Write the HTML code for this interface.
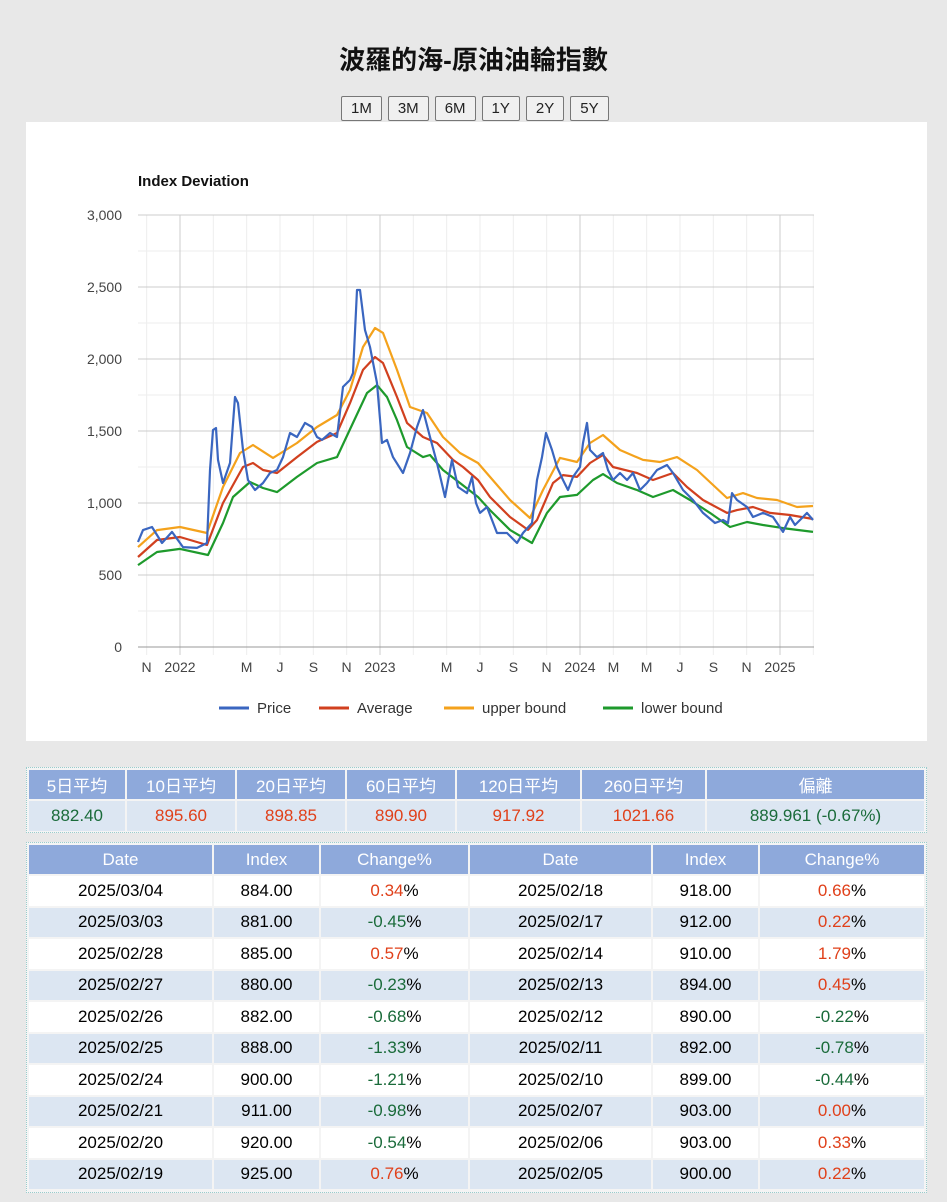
<!DOCTYPE html>
<html><head><meta charset="utf-8"><style>
body{margin:0;background:#e8e8e8;font-family:"Liberation Sans","Noto Sans CJK TC",sans-serif;width:947px;height:1202px;position:relative;overflow:hidden}
.title{position:absolute;top:40px;left:0;width:947px;text-align:center;font-size:26px;font-weight:bold;color:#111}
.btns{position:absolute;top:96px;left:341px;display:flex;gap:6px}
.btns div{height:23px;border:1px solid #777;border-radius:2px;background:#f0f0f0;font-size:15px;line-height:23px;padding:0 9px;color:#222}
.panel{position:absolute;left:26px;top:122px;width:901px;height:619px;background:#fff}
table{border-collapse:separate;border-spacing:2px;font-size:17px;text-align:center}
.box{position:absolute;border:1px dotted #9cc;background:#f4f4f4}
th{background:#8ea9db;color:#fff;font-weight:normal;height:29px;padding:0}
td{height:29.5px;padding:0}
.g{color:#1a6b3a}.r{color:#e0401a}
.alt td{background:#dce6f2}
.wh td{background:#fff}
</style></head><body>
<div class="title">波羅的海-原油油輪指數</div>
<div class="btns">
<div>1M</div><div>3M</div><div>6M</div><div>1Y</div><div>2Y</div><div>5Y</div>
</div>
<div class="panel">
<svg id="chart" width="901" height="619" style="font-family:'Liberation Sans',sans-serif"></svg>
</div>

<div class="box" style="left:26px;top:767px;width:899px;height:64px">
<table style="width:899px">
<tr><th style="width:96px">5日平均</th><th style="width:108px">10日平均</th><th style="width:108px">20日平均</th><th style="width:108px">60日平均</th><th style="width:123px">120日平均</th><th style="width:123px">260日平均</th><th>偏離</th></tr>
<tr class="alt"><td class="g">882.40</td><td class="r">895.60</td><td class="r">898.85</td><td class="r">890.90</td><td class="r">917.92</td><td class="r">1021.66</td><td class="g">889.961 (-0.67%)</td></tr>
</table></div>

<div class="box" style="left:26px;top:842px;width:899px;height:349px">
<table id="hist" style="width:899px">
<tr><th style="width:183px">Date</th><th style="width:105px">Index</th><th style="width:147px">Change%</th><th style="width:181px">Date</th><th style="width:105px">Index</th><th>Change%</th></tr>
</table></div>

<script>
const rowsL=[["2025/03/04","884.00","0.34"],["2025/03/03","881.00","-0.45"],["2025/02/28","885.00","0.57"],["2025/02/27","880.00","-0.23"],["2025/02/26","882.00","-0.68"],["2025/02/25","888.00","-1.33"],["2025/02/24","900.00","-1.21"],["2025/02/21","911.00","-0.98"],["2025/02/20","920.00","-0.54"],["2025/02/19","925.00","0.76"]];
const rowsR=[["2025/02/18","918.00","0.66"],["2025/02/17","912.00","0.22"],["2025/02/14","910.00","1.79"],["2025/02/13","894.00","0.45"],["2025/02/12","890.00","-0.22"],["2025/02/11","892.00","-0.78"],["2025/02/10","899.00","-0.44"],["2025/02/07","903.00","0.00"],["2025/02/06","903.00","0.33"],["2025/02/05","900.00","0.22"]];
const ht=document.getElementById('hist');
function cell(r){const c=parseFloat(r[2]);const cls=c<0?'g':'r';return `<td>${r[0]}</td><td>${r[1]}</td><td><span class="${cls}">${r[2]}</span>%</td>`;}
rowsL.forEach((r,i)=>{const tr=document.createElement('tr');tr.className=i%2?'alt':'wh';


tr.innerHTML=cell(r)+cell(rowsR[i]);ht.appendChild(tr);});

// chart data
const priceDates=[2021.79,2021.815,2021.86,2021.91,2021.96,2022.015,2022.085,2022.135,2022.15,2022.165,2022.18,2022.19,2022.215,2022.25,2022.275,2022.29,2022.315,2022.34,2022.375,2022.415,2022.45,2022.485,2022.515,2022.55,2022.585,2022.625,2022.66,2022.685,2022.71,2022.75,2022.785,2022.815,2022.85,2022.865,2022.885,2022.9,2022.925,2022.95,2022.985,2023.01,2023.035,2023.065,2023.115,2023.15,2023.185,2023.215,2023.25,2023.285,2023.325,2023.36,2023.39,2023.435,2023.46,2023.48,2023.5,2023.535,2023.585,2023.635,2023.685,2023.715,2023.76,2023.785,2023.81,2023.83,2023.86,2023.885,2023.915,2023.94,2023.965,2024.0,2024.015,2024.035,2024.05,2024.085,2024.115,2024.14,2024.165,2024.2,2024.235,2024.265,2024.3,2024.335,2024.385,2024.435,2024.465,2024.515,2024.565,2024.615,2024.675,2024.715,2024.74,2024.76,2024.785,2024.835,2024.865,2024.915,2024.965,2025.015,2025.05,2025.075,2025.115,2025.135,2025.165];
const priceVals=[729,812,833,722,799,694,688,722,1229,1507,1521,1299,1139,1278,1736,1694,1368,1160,1090,1139,1208,1229,1319,1486,1458,1556,1528,1458,1438,1486,1458,1806,1854,1903,2479,2479,2201,2083,1833,1417,1438,1319,1208,1347,1528,1646,1458,1278,1042,1299,1111,1069,1181,1000,931,972,792,792,722,792,861,1160,1319,1486,1368,1250,1160,1090,1181,1250,1417,1556,1368,1319,1347,1229,1160,1208,1160,1208,1090,1139,1229,1264,1208,1090,1021,931,861,882,861,1069,1021,972,903,931,903,799,903,847,903,931,882];
const avgDates=[2021.79,2021.885,2022.0,2022.135,2022.215,2022.315,2022.365,2022.415,2022.485,2022.585,2022.685,2022.785,2022.85,2022.915,2022.975,2023.015,2023.085,2023.135,2023.215,2023.285,2023.365,2023.415,2023.49,2023.55,2023.65,2023.74,2023.785,2023.865,2023.915,2023.985,2024.05,2024.115,2024.165,2024.285,2024.365,2024.465,2024.535,2024.615,2024.735,2024.785,2024.865,2024.95,2025.05,2025.165];
const avgVals=[625,743,764,708,1000,1250,1278,1229,1208,1319,1424,1486,1694,1924,2014,1972,1736,1556,1458,1417,1299,1250,1160,1042,903,813,882,1139,1194,1181,1278,1333,1250,1208,1160,1208,1111,1021,931,951,972,931,917,889];
const upDates=[2021.79,2021.885,2022.0,2022.135,2022.215,2022.3,2022.365,2022.465,2022.585,2022.685,2022.785,2022.85,2022.915,2022.975,2023.015,2023.085,2023.15,2023.235,2023.315,2023.4,2023.49,2023.55,2023.65,2023.75,2023.815,2023.9,2023.985,2024.05,2024.115,2024.2,2024.315,2024.4,2024.485,2024.585,2024.735,2024.815,2024.885,2024.985,2025.085,2025.165];
const upVals=[694,812,833,792,1111,1347,1403,1313,1417,1528,1611,1785,2083,2215,2181,1924,1667,1625,1458,1347,1278,1181,1021,896,1090,1313,1285,1417,1472,1368,1299,1285,1319,1229,1035,1069,1035,1021,972,979];
const loDates=[2021.79,2021.885,2022.0,2022.14,2022.215,2022.265,2022.35,2022.415,2022.485,2022.585,2022.685,2022.785,2022.865,2022.935,2022.985,2023.035,2023.085,2023.135,2023.215,2023.25,2023.315,2023.4,2023.49,2023.55,2023.65,2023.76,2023.835,2023.9,2023.985,2024.065,2024.115,2024.185,2024.285,2024.365,2024.465,2024.55,2024.65,2024.75,2024.835,2024.915,2025.015,2025.165];
const loVals=[569,660,681,639,861,1042,1146,1104,1076,1181,1278,1319,1556,1764,1819,1736,1576,1389,1319,1333,1229,1139,1042,951,813,722,931,1042,1056,1160,1201,1139,1090,1042,1090,1021,931,833,868,847,826,799];
const yTicks=[0,500,1000,1500,2000,2500,3000];
const xTickLabels=["N","2022","M","J","S","N","2023","M","J","S","N","2024","M","M","J","S","N","2025"];
const xTickDates=[2021.833,2022,2022.333,2022.5,2022.667,2022.833,2023,2023.333,2023.5,2023.667,2023.833,2024,2024.167,2024.333,2024.5,2024.667,2024.833,2025];

const OX=26,OY=122;
const x=d=>180+(d-2022)*200-OX;
const y=v=>647-v*0.144-OY;
const L=112,R=788,T=y(3000),B=y(0);
const svg=document.getElementById('chart');
const NS='http://www.w3.org/2000/svg';
function mk(t,a,p){const e=document.createElementNS(NS,t);for(const k in a)e.setAttribute(k,a[k]);(p||svg).appendChild(e);return e;}
for(let v=250;v<3000;v+=500){const l=mk('line',{x1:L,x2:R,y1:y(v),y2:y(v),stroke:'#eeeeee'});

}
for(let m=-2;m<=38;m+=2){const d=2022+m/12;const X=x(d);if(X<L||X>R)continue;const major=m%12===0;
const l=mk('line',{x1:X,x2:X,y1:T,y2:B+8,stroke:major?'#cccccc':'#eeeeee'});

}
yTicks.forEach(v=>{const l=mk('line',{x1:L,x2:R,y1:y(v),y2:y(v),stroke:v===0?'#999':'#cccccc'});


const t=mk('text',{x:L-16,y:y(v)+5,'text-anchor':'end','font-size':14,fill:'#444'});t.textContent=v.toLocaleString('en-US');

});
xTickLabels.forEach((s,i)=>{const t=mk('text',{x:x(xTickDates[i]),y:B+25,'text-anchor':'middle','font-size':14,fill:'#444'});t.textContent=s;

});
const ttl=mk('text',{x:112,y:64,'font-size':15,'font-weight':'bold',fill:'#111'});ttl.textContent='Index Deviation';


function line(ds,vs,c,name){const p=mk('path',{d:ds.map((d,i)=>(i?'L':'M')+x(d).toFixed(1)+','+y(vs[i]).toFixed(1)).join(''),fill:'none',stroke:c,'stroke-width':2.2,'stroke-linejoin':'round'});

}
line(upDates,upVals,'#f4a21c','upper-bound-line');
line(loDates,loVals,'#1e9a2c','lower-bound-line');
line(avgDates,avgVals,'#d1401f','average-line');
line(priceDates,priceVals,'#3a66c0','price-line');
const leg=[['Price','#3a66c0',193],['Average','#d1401f',293],['upper bound','#f4a21c',418],['lower bound','#1e9a2c',577]];
leg.forEach(([s,c,lx])=>{const g=mk('g',{});


mk('line',{x1:lx,x2:lx+30,y1:586,y2:586,stroke:c,'stroke-width':3},g);
const t=mk('text',{x:lx+38,y:591,'font-size':15,fill:'#333'},g);t.textContent=s;});
</script>
</body></html>
